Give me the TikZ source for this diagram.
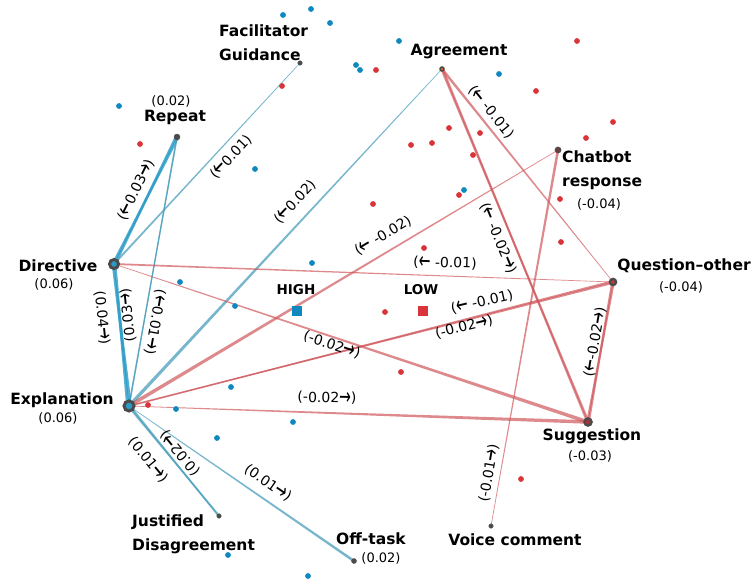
\documentclass[tikz,border=0pt]{standalone}
\usepackage{fontspec}
\setmainfont{DejaVu Sans}
\usetikzlibrary{calc}
\definecolor{bl}{HTML}{4A9EBB}
\definecolor{blv}{HTML}{2A9BC8}
\definecolor{rd}{HTML}{D0575C}
\definecolor{dotb}{HTML}{0E88BF}
\definecolor{dotr}{HTML}{D9343A}
\definecolor{ngray}{HTML}{4B4B4B}
\newcommand{\rar}{\raisebox{-0.13em}{\scalebox{1.0}[1.65]{→}}}
\newcommand{\lar}{\raisebox{-0.13em}{\scalebox{1.0}[1.65]{←}}}
% tapered edge: style, half width at target, source, target
\newcommand{\onaedge}[4]{%
  \fill[#1] ($(#4)!#2!90:(#3)$) -- ($(#4)!#2!-90:(#3)$) -- ($(#3)!0.3pt!90:(#4)$) -- ($(#3)!0.3pt!-90:(#4)$) -- cycle;}
\tikzset{
  be/.style={bl,opacity=0.75},
  bev/.style={blv,opacity=0.8},
  re/.style={rd,opacity=0.7},
  sdot/.style={circle,inner sep=0pt,minimum size=5.8pt},
  bdot/.style={sdot,fill=dotb},
  rdot/.style={sdot,fill=dotr},
  gnode/.style={circle,inner sep=0pt,draw=ngray,fill=ngray},
  nm/.style={font=\fontsize{15.5}{24}\selectfont\bfseries,inner sep=0pt},
  val/.style={font=\fontsize{13}{15}\selectfont,inner sep=0pt},
  el/.style={font=\fontsize{14}{16}\selectfont,inner sep=0pt},
}
\begin{document}
\begin{tikzpicture}[x=1pt,y=-1pt]
\useasboundingbox (0,0) rectangle (754,583);
\fill[white] (0,0) rectangle (754,583);
% node centres
\coordinate (Fac) at (300,63);
\coordinate (Rep) at (177,137);
\coordinate (Dir) at (114,264);
\coordinate (Exp) at (129,406);
\coordinate (Jus) at (219,516);
\coordinate (Off) at (354,561);
\coordinate (Voi) at (491,526);
\coordinate (Sug) at (588,422);
\coordinate (Que) at (613,282);
\coordinate (Cha) at (558,150);
\coordinate (Agr) at (442,69);
% blue edges
\onaedge{bev}{2.2pt}{Rep}{Dir}
\onaedge{bev}{2.2pt}{Dir}{Rep}
\onaedge{be}{1.0pt}{Fac}{Dir}
\onaedge{be}{0.9pt}{Rep}{Exp}
\onaedge{be}{0.9pt}{Exp}{Rep}
\onaedge{be}{1.7pt}{Agr}{Exp}
\onaedge{be}{1.1pt}{Exp}{Jus}
\onaedge{be}{1.7pt}{Jus}{Exp}
\onaedge{be}{1.3pt}{Exp}{Off}
\onaedge{bev}{2.8pt}{Dir}{Exp}
\onaedge{bev}{2.3pt}{Exp}{Dir}
% red edges
\onaedge{re}{0.9pt}{Que}{Dir}
\onaedge{re}{1.8pt}{Dir}{Sug}
\onaedge{re}{1.8pt}{Cha}{Exp}
\onaedge{re}{0.9pt}{Que}{Exp}
\onaedge{re}{1.8pt}{Exp}{Que}
\onaedge{re}{1.8pt}{Exp}{Sug}
\onaedge{re}{1.3pt}{Que}{Agr}
\onaedge{re}{1.6pt}{Agr}{Sug}
\onaedge{re}{1.6pt}{Sug}{Agr}
\onaedge{re}{1.3pt}{Voi}{Cha}
\onaedge{re}{1.8pt}{Sug}{Que}
\onaedge{re}{1.8pt}{Que}{Sug}
% scattered points
\foreach \p [count=\i] in {(283,15),(311,9),(330,23),(356,65),(360,70),(399,41),(119,106),(255,169),(499,74),(464,190),(312,263),(180,282),(235,306),(231,387),(176,409),(293,422),(217,438),(228,555),(308,576)}
  \node[bdot] (b\i) at \p {};
\foreach \p [count=\i] in {(376,70),(282,86),(577,41),(536,91),(613,122),(586,138),(140,144),(449,128),(411,145),(432,143),(480,133),(473,155),(459,195),(560,199),(561,242),(424,248),(373,204),(385,312),(401,372),(148,405),(521,479)}
  \node[rdot] (r\i) at \p {};
% group means
\node[rectangle,fill=dotb,minimum size=10pt,inner sep=0pt] (high) at (297,311) {};
\node[rectangle,fill=dotr,minimum size=10pt,inner sep=0pt] (low) at (423,311) {};
\node[nm,font=\fontsize{13.5}{16}\selectfont\bfseries] (highl) at (296,290) {HIGH};
\node[nm,font=\fontsize{13.5}{16}\selectfont\bfseries] (lowl) at (421,290) {LOW};
% nodes
\node[gnode,minimum size=9pt,line width=3pt,fill=blv] (nDir) at (Dir) {};
\node[gnode,minimum size=10pt,line width=3pt,fill=blv] (nExp) at (Exp) {};
\node[gnode,minimum size=6pt,line width=2.5pt,fill=dotr] (nQue) at (Que) {};
\node[gnode,minimum size=7pt,line width=2.5pt,fill=dotr!85!black] (nSug) at (Sug) {};
\node[gnode,minimum size=4pt,line width=1.5pt,fill=orange!70!red] (nAgr) at (Agr) {};
\node[gnode,minimum size=5pt,line width=1.6pt,fill=ngray!70!red] (nCha) at (Cha) {};
\node[gnode,minimum size=6pt] (nRep) at (Rep) {};
\node[gnode,minimum size=4.5pt] (nFac) at (Fac) {};
\node[gnode,minimum size=4.5pt] (nJus) at (Jus) {};
\node[gnode,minimum size=5pt] (nOff) at (Off) {};
\node[gnode,minimum size=4.5pt] (nVoi) at (Voi) {};
% node labels
\node[nm,align=left,anchor=west] (lFac) at (219,43) {Facilitator\\Guidance};
\node[val] (vRep) at (171,101) {(0.02)};
\node[nm] (lRep) at (175,117) {Repeat};
\node[nm] (lDir) at (58,266) {Directive};
\node[val] (vDir) at (54,284) {(0.06)};
\node[nm] (lExp) at (62,400) {Explanation};
\node[val] (vExp) at (58,418) {(0.06)};
\node[nm,align=left,anchor=west] (lJus) at (132,534) {Justified\\Disagreement};
\node[nm] (lOff) at (371,539) {Off-task};
\node[val] (vOff) at (381,558) {(0.02)};
\node[nm] (lVoi) at (515,540) {Voice comment};
\node[nm] (lSug) at (592,436) {Suggestion};
\node[val] (vSug) at (590,456) {(-0.03)};
\node[nm] (lQue) at (684,266) {Question–other};
\node[val] (vQue) at (681,287) {(-0.04)};
\node[nm,align=left,anchor=west] (lCha) at (562,170) {Chatbot\\response};
\node[val] (vCha) at (599,204) {(-0.04)};
\node[nm] (lAgr) at (459,52) {Agreement};
% edge labels
\node[el,rotate=63.6] (e1) at (136,190) {(\lar0.03\rar)};
\node[el,rotate=47] (e2) at (231,157) {(\lar0.01)};
\node[el,rotate=47] (e3) at (295,202) {(\lar0.02)};
\node[el,rotate=-100] (e4) at (155,322) {(\lar0.01\rar)};
\node[el,rotate=-84] (e5) at (102,318) {(0.04\rar)};
\node[el,rotate=96] (e6) at (128,315) {(0.03\rar)};
\node[el,rotate=-50.7] (e7) at (148,460) {(0.01\rar)};
\node[el,rotate=129.3] (e8) at (180,453) {(0.02\rar)};
\node[el,rotate=-34.6] (e9) at (268,483) {(0.01\rar)};
\node[el,rotate=30.8] (e10) at (383,236) {(\lar{} -0.02)};
\node[el,rotate=-2] (e11) at (445,263) {(\lar{} -0.01)};
\node[el,rotate=13] (e12) at (482,302) {(\lar{} -0.01)};
\node[el,rotate=14] (e13) at (464,327) {(-0.02\rar)};
\node[el,rotate=-18.4] (e14) at (332,345) {(-0.02\rar)};
\node[el,rotate=-1] (e15) at (327,398) {(-0.02\rar)};
\node[el,rotate=-51] (e16) at (491,112) {(\lar{} -0.01)};
\node[el,rotate=-67.5] (e17) at (498,238) {(\lar{} -0.02\rar)};
\node[el,rotate=80] (e18) at (595,342) {(\lar-0.02\rar)};
\node[el,rotate=80] (e19) at (489,473) {(-0.01\rar)};
\end{tikzpicture}
\end{document}
